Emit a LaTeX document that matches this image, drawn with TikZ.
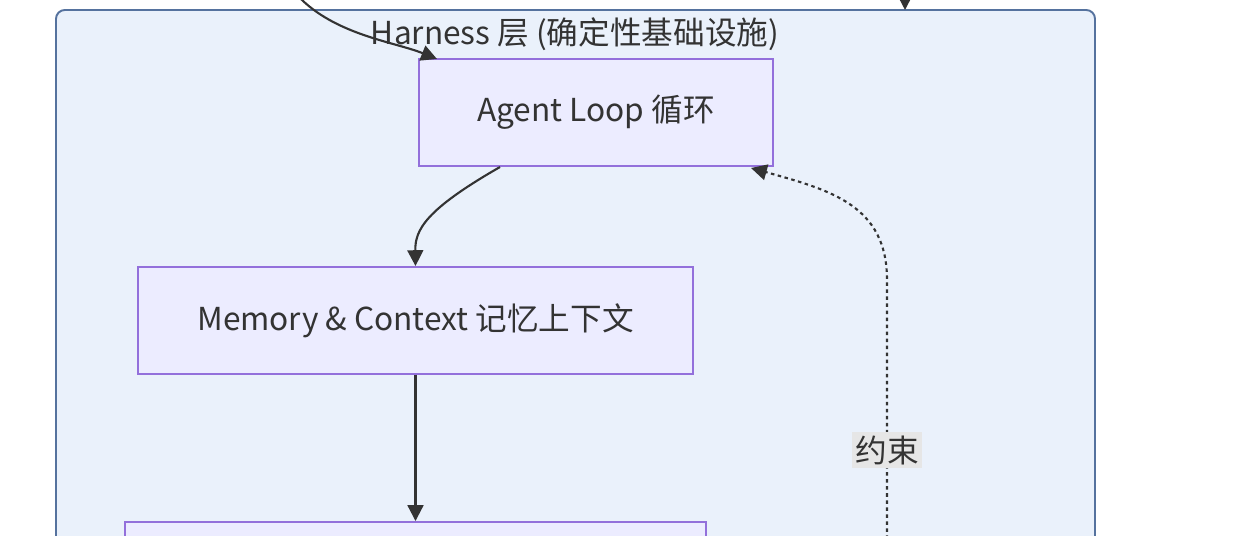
\documentclass[tikz,border=0pt]{standalone}
\usepackage{fontspec}
\setmainfont{Noto Sans CJK SC}
\usetikzlibrary{arrows.meta}
\definecolor{clusterfill}{HTML}{EAF1FB}
\definecolor{clusterline}{HTML}{55729E}
\definecolor{boxfill}{HTML}{ECECFF}
\definecolor{boxline}{HTML}{9370DB}
\definecolor{inkgray}{HTML}{333333}
\definecolor{labelbg}{HTML}{E6E6E6}
\tikzset{
  stepbox/.style={draw=boxline, fill=boxfill, line width=1.1pt, text=inkgray,
    inner sep=0pt, font=\fontsize{18}{22}\selectfont},
  flow/.style={draw=inkgray, line width=1.2pt, -{Triangle[length=9pt,width=9pt]}},
  hint/.style={flow, dash pattern=on 2pt off 2pt},
  edgetag/.style={fill=labelbg, text=inkgray, inner sep=2pt, font=\fontsize{18}{22}\selectfont}
}
\begin{document}
\begin{tikzpicture}[x=0.02cm, y=-0.02cm]
  \useasboundingbox (0,0) rectangle (1260,536);
  \clip (0,0) rectangle (1260,536);
  \fill[white] (0,0) rectangle (1260,536);

  % Harness cluster
  \draw[draw=clusterline, fill=clusterfill, line width=1.1pt, rounded corners=5pt]
    (56,10) rectangle (1095,620);
  \node[text=inkgray, font=\fontsize{18}{22}\selectfont] (title) at (575,34)
    {Harness 层 (确定性基础设施)};

  % boxes
  \node[stepbox, minimum width=354*0.02cm, minimum height=107*0.02cm] (loop) at (596,112.5)
    {Agent Loop 循环};
  \node[stepbox, minimum width=555*0.02cm, minimum height=107*0.02cm] (memory) at (415.5,320.5)
    {Memory \& Context 记忆上下文};
  \node[stepbox, minimum width=581*0.02cm, minimum height=107*0.02cm] (below) at (415.5,575.5) {};

  % loose ends coming from outside the view
  \coordinate (fromleft) at (298,-4);
  \coordinate (fromtop) at (905,-6);
  \coordinate (fromlow) at (887,560);

  % connectors
  \draw[flow] (fromleft) .. controls (335,35) and (395,42) .. (437,59);
  \draw[flow] (fromtop) -- (905,10);
  \draw[flow] (500,167) .. controls (425,210) and (415,230) .. (memory.north);
  \draw[flow] (memory.south) -- (below.north);
  \draw[hint] (fromlow) -- (887,280) .. controls (887,205) and (830,190) .. (751,168);

  % label on the dashed connector
  \node[edgetag] (constraint) at (887,450) {约束};
\end{tikzpicture}
\end{document}
